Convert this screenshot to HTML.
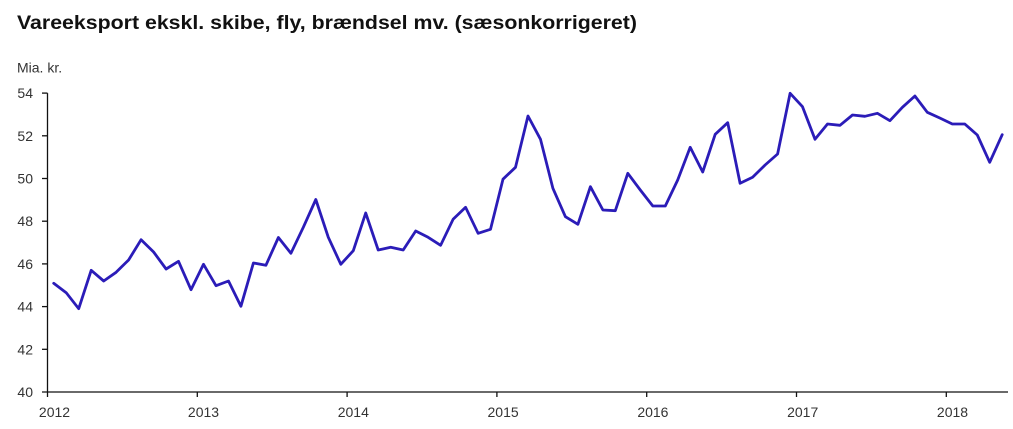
<!DOCTYPE html>
<html><head><meta charset="utf-8"><style>
html,body{margin:0;padding:0;background:#fff;}
svg{display:block;}
text{font-family:"Liberation Sans",Arial,sans-serif;}
</style></head><body>
<svg width="1013" height="429" viewBox="0 0 1013 429" xmlns="http://www.w3.org/2000/svg">
<rect width="1013" height="429" fill="#fff"/>
<text x="17" y="29" font-size="19.5" font-weight="bold" fill="#111" textLength="620" lengthAdjust="spacingAndGlyphs">Vareeksport ekskl. skibe, fly, brændsel mv. (sæsonkorrigeret)</text>
<text x="17" y="72.5" font-size="14" fill="#333">Mia. kr.</text>
<g font-size="14" fill="#333" text-anchor="end">
<text x="33" y="397">40</text>
<text x="33" y="354.3">42</text>
<text x="33" y="311.6">44</text>
<text x="33" y="268.9">46</text>
<text x="33" y="226.2">48</text>
<text x="33" y="183.5">50</text>
<text x="33" y="140.8">52</text>
<text x="33" y="98.1">54</text>
</g>
<g stroke="#111" stroke-width="1.3" fill="none">
<line x1="47.5" y1="93.1" x2="47.5" y2="392"/>
<line x1="42" y1="392" x2="1008" y2="392"/>
<line x1="42" y1="349.3" x2="47.5" y2="349.3"/>
<line x1="42" y1="306.6" x2="47.5" y2="306.6"/>
<line x1="42" y1="263.9" x2="47.5" y2="263.9"/>
<line x1="42" y1="221.2" x2="47.5" y2="221.2"/>
<line x1="42" y1="178.5" x2="47.5" y2="178.5"/>
<line x1="42" y1="135.8" x2="47.5" y2="135.8"/>
<line x1="42" y1="93.1" x2="47.5" y2="93.1"/>
<line x1="47.5" y1="392" x2="47.5" y2="397"/>
<line x1="197.3" y1="392" x2="197.3" y2="397"/>
<line x1="347.1" y1="392" x2="347.1" y2="397"/>
<line x1="496.9" y1="392" x2="496.9" y2="397"/>
<line x1="646.7" y1="392" x2="646.7" y2="397"/>
<line x1="796.5" y1="392" x2="796.5" y2="397"/>
<line x1="946.3" y1="392" x2="946.3" y2="397"/>
</g>
<g font-size="14" fill="#333" text-anchor="middle">
<text x="54.5" y="417">2012</text>
<text x="203.5" y="417">2013</text>
<text x="353.3" y="417">2014</text>
<text x="503.1" y="417">2015</text>
<text x="652.9" y="417">2016</text>
<text x="802.7" y="417">2017</text>
<text x="952.5" y="417">2018</text>
</g>
<polyline fill="none" stroke="#2b1cb8" stroke-width="2.8" stroke-linejoin="round" stroke-linecap="round" points="53.7,283.3 66.2,292.7 78.7,308.7 91.2,270.3 103.7,281 116.1,272.3 128.6,260 141.1,239.7 153.6,252 166.1,269 178.5,261.3 191,289.7 203.5,264.3 216,285.7 228.5,281 240.9,306.3 253.4,263 265.9,265.3 278.4,237.5 290.9,253.3 303.3,227.3 315.8,199.5 328.3,237.3 340.8,264.3 353.3,250.7 365.7,213 378.2,250 390.7,247.3 403.2,250 415.7,231 428.1,237.3 440.6,245.3 453.1,219.3 465.6,207.3 478.1,233.3 490.5,229.3 503,179.2 515.5,167.3 528,116 540.5,139.3 552.9,188.3 565.4,216.7 577.9,224.3 590.4,186.7 602.9,210 615.3,210.7 627.8,173.3 640.3,190 652.8,206 665.3,206 677.7,180 690.2,147.3 702.7,172 715.2,134.3 727.7,122.7 740.1,183.3 752.6,177.3 765.1,165 777.6,154 790.1,93.3 802.5,106.7 815,139.3 827.5,124 840,125.3 852.5,115 864.9,116.3 877.4,113.3 889.9,120.7 902.4,107.3 914.9,96 927.3,112.3 939.8,118 952.3,124 964.8,124 977.3,135 989.7,162.3 1002.2,134.7"/>
</svg>
</body></html>
